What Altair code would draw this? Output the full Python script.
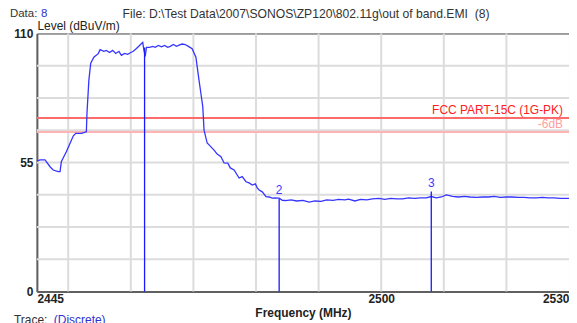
import altair as alt
import pandas as pd

# ---- data ----
freq = [2445.0, 2445.5, 2446.3, 2447.1, 2447.6, 2448.4, 2448.7, 2448.9, 2449.2, 2449.7,
        2450.3, 2450.8, 2451.2, 2452.1, 2452.6, 2452.9, 2453.0, 2453.3, 2453.6, 2454.1,
        2454.8, 2455.1, 2455.7, 2456.1, 2456.6, 2457.1, 2457.6, 2458.1, 2458.5, 2459.0,
        2459.5, 2460.0, 2460.4, 2460.9, 2461.4, 2461.9, 2462.1, 2462.3, 2462.5, 2463.0,
        2463.5, 2463.9, 2464.4, 2464.9, 2465.4, 2465.9, 2466.3, 2466.8, 2467.3, 2467.8,
        2468.2, 2468.7, 2469.2, 2469.8, 2470.4, 2470.9, 2471.2, 2471.5, 2471.7, 2472.2,
        2472.7, 2473.3, 2473.8, 2474.4, 2474.9, 2475.5, 2475.9, 2476.5, 2477.3, 2477.8,
        2478.4, 2478.9, 2479.4, 2479.9, 2480.2, 2480.5, 2481.0, 2481.6, 2482.1, 2482.6,
        2483.0, 2483.7, 2484.2, 2484.7, 2485.6, 2486.5, 2487.5, 2488.5, 2489.4, 2490.4,
        2491.3, 2492.3, 2493.2, 2494.2, 2494.8, 2495.8, 2496.7, 2497.7, 2498.6, 2499.6,
        2500.6, 2501.5, 2502.5, 2503.4, 2504.4, 2505.3, 2506.3, 2507.2, 2508.0, 2508.8,
        2509.6, 2510.4, 2511.4, 2512.3, 2513.3, 2514.2, 2515.2, 2516.2, 2517.1, 2518.1,
        2519.0, 2520.0, 2520.9, 2521.9, 2522.8, 2523.8, 2524.8, 2525.7, 2526.7, 2527.6,
        2528.6, 2529.5, 2530.0]
level = [55.6, 56.1, 56.1, 53.2, 51.8, 51.1, 51.1, 55.3, 56.9, 59.6,
         63.2, 66.3, 67.4, 67.4, 67.8, 68.1, 76.0, 90.0, 97.3, 99.9,
         101.4, 103.1, 102.4, 102.8, 101.9, 102.8, 101.5, 102.4, 100.7, 101.5,
         101.1, 101.9, 102.4, 103.6, 104.9, 106.2, 102.8, 100.2, 104.1, 104.1,
         104.5, 104.1, 104.9, 104.3, 104.9, 104.1, 104.5, 105.3, 104.5, 105.1,
         105.5, 105.3, 104.5, 103.5, 99.9, 90.0, 84.4, 78.7, 68.8, 63.3,
         62.0, 60.3, 58.6, 57.5, 54.8, 54.7, 52.7, 51.8, 48.4, 49.0,
         46.8, 46.3, 45.4, 45.9, 44.2, 43.3, 42.5, 40.5, 40.3, 39.8,
         39.9, 39.8, 38.9, 38.8, 39.1, 38.6, 38.9, 38.1, 38.6, 38.4,
         39.1, 38.9, 39.3, 39.1, 39.4, 38.6, 39.3, 39.1, 39.5, 39.7,
         39.3, 39.7, 39.5, 39.5, 39.9, 39.7, 39.9, 39.9, 40.5, 39.9,
         40.3, 41.2, 40.6, 40.3, 40.6, 40.3, 40.1, 40.3, 40.3, 40.6,
         40.1, 40.3, 40.3, 40.1, 40.1, 39.9, 39.9, 40.1, 39.9, 39.9,
         39.7, 39.7, 39.7]

marker_freq = [2462.2, 2483.7, 2508.0]
marker_level = [104.0, 39.5, 42.6]
marker_label = ["", "2", "3"]

limit_level = [74.0, 68.0]
limit_label = ["FCC PART-15C (1G-PK)", "-6dB"]
limit_color = ["#ff6a6a", "#ffb4b4"]
limit_text_color = ["#ff2020", "#ffa0a0"]

x_grid = [2450, 2460, 2470, 2480, 2490, 2500, 2510, 2520]
y_grid = [13.75, 27.5, 41.25, 55, 68.75, 82.5, 96.25]
x_labels = [2445, 2500, 2530]
y_labels = [0, 55, 110]

FONT = "Liberation Sans"
W, H = 534, 259

xs = alt.Scale(domain=[2445, 2530], nice=False, zero=False)
ys = alt.Scale(domain=[0, 110], nice=False)

trace_df = pd.DataFrame({"f": freq, "l": level})
mk_df = pd.DataFrame({"f": marker_freq, "l": marker_level, "lab": marker_label, "z": [0, 0, 0]})
lim_df = pd.DataFrame({"l": limit_level, "lab": limit_label, "c": limit_color, "tc": limit_text_color})

xgrid = alt.Chart(pd.DataFrame({"f": x_grid})).mark_rule(color="#dcdcdc", strokeWidth=2).encode(
    x=alt.X("f:Q", scale=xs,
            axis=alt.Axis(values=x_labels, format="d", title="Frequency (MHz)", grid=False, ticks=False,
                          labelFont=FONT, labelFontSize=12, labelFontWeight="bold", labelColor="#222",
                          labelPadding=2, labelFlush=False,
                          labelAlign={"condition": [
                              {"test": "datum.value <= 2445", "value": "left"},
                              {"test": "datum.value >= 2530", "value": "right"}],
                              "value": "center"},
                          domainColor="#606060", domainWidth=2,
                          titleFont=FONT, titleFontSize=12, titleFontWeight="bold", titleColor="#222",
                          titlePadding=3)))

ygrid = alt.Chart(pd.DataFrame({"l": y_grid})).mark_rule(color="#dcdcdc", strokeWidth=2).encode(
    y=alt.Y("l:Q", scale=ys,
            axis=alt.Axis(values=y_labels, format="d", title="Level (dBuV/m)", grid=False, ticks=False,
                          labelFont=FONT, labelFontSize=12, labelFontWeight="bold", labelColor="#222",
                          labelPadding=4, labelFlush=False,
                          domainColor="#606060", domainWidth=2,
                          titleFont=FONT, titleFontSize=12, titleFontWeight="normal", titleColor="#222",
                          titleAngle=0, titleAlign="left", titleBaseline="alphabetic",
                          titleX=0, titleY=-4)))

limits = alt.Chart(lim_df).mark_rule(strokeWidth=2).encode(
    y=alt.Y("l:Q", scale=ys),
    color=alt.Color("c:N", scale=None))

limit_text = alt.Chart(lim_df).mark_text(align="right", baseline="bottom", dy=-1, font=FONT, fontSize=12).encode(
    x=alt.value(528),
    y=alt.Y("l:Q", scale=ys),
    text="lab:N",
    color=alt.Color("tc:N", scale=None))

trace = alt.Chart(trace_df).mark_line(color="#3535ff", strokeWidth=1.3, interpolate="linear").encode(
    x=alt.X("f:Q", scale=xs),
    y=alt.Y("l:Q", scale=ys))

mk_lines = alt.Chart(mk_df).mark_rule(color="#1a1aff", strokeWidth=1.3).encode(
    x=alt.X("f:Q", scale=xs),
    y=alt.Y("l:Q", scale=ys),
    y2="z:Q")

mk_text = alt.Chart(mk_df).mark_text(baseline="bottom", dy=-2, font=FONT, fontSize=12, color="#3a3aff").encode(
    x=alt.X("f:Q", scale=xs),
    y=alt.Y("l:Q", scale=ys),
    text="lab:N")

hdr1 = alt.Chart(pd.DataFrame({"t": ["Data:"]})).mark_text(
    align="left", baseline="middle", font=FONT, fontSize=11.5, color="#333").encode(
    x=alt.value(-27), y=alt.value(-20), text="t:N")
hdr2 = alt.Chart(pd.DataFrame({"t": ["8"]})).mark_text(
    align="left", baseline="middle", font=FONT, fontSize=11.5, color="#3030d0").encode(
    x=alt.value(4), y=alt.value(-20), text="t:N")
hdr3 = alt.Chart(pd.DataFrame({"t": ["File: D:\\Test Data\\2007\\SONOS\\ZP120\\802.11g\\out of band.EMI \u00a0(8)"]})).mark_text(
    align="left", baseline="middle", font=FONT, fontSize=12.2, color="#333").encode(
    x=alt.value(86), y=alt.value(-20), text="t:N")
trace_lbl1 = alt.Chart(pd.DataFrame({"t": ["Trace:"]})).mark_text(
    align="left", baseline="middle", font=FONT, fontSize=12, color="#333").encode(
    x=alt.value(-23), y=alt.value(288), text="t:N")
trace_lbl2 = alt.Chart(pd.DataFrame({"t": ["(Discrete)"]})).mark_text(
    align="left", baseline="middle", font=FONT, fontSize=12, color="#3030d0").encode(
    x=alt.value(17), y=alt.value(288), text="t:N")

chart = alt.layer(
    xgrid, ygrid, limits, limit_text, trace, mk_lines, mk_text,
    hdr1, hdr2, hdr3, trace_lbl1, trace_lbl2
).properties(
    width=W, height=H,
    autosize=alt.AutoSizeParams(type="none"),
    padding={"left": 29, "top": 25, "right": 0, "bottom": 31},
    background="white",
).configure_view(stroke="#404040", strokeWidth=1)

chart.save("out.html", embed_options={"renderer": "svg", "actions": False})
